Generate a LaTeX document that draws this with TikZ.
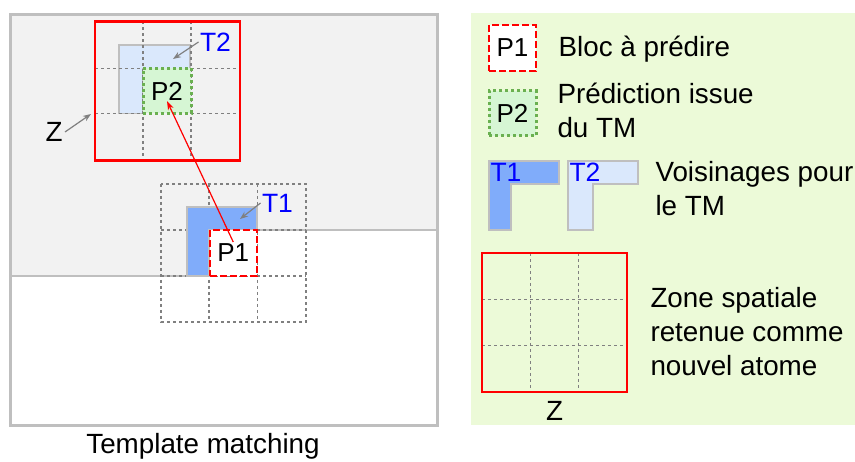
\documentclass[tikz,border=0pt]{standalone}
\usepackage{fontspec}
\setmainfont{Liberation Sans}
\usetikzlibrary{arrows.meta,positioning}
\definecolor{edge}{RGB}{191,191,191}
\definecolor{coded}{RGB}{242,242,242}
\definecolor{cellline}{RGB}{128,128,128}
\definecolor{legendbg}{RGB}{236,250,216}
\definecolor{tdark}{RGB}{128,172,250}
\definecolor{tlight}{RGB}{218,232,252}
\definecolor{predfill}{RGB}{214,246,212}
\definecolor{preddraw}{RGB}{106,176,80}
\definecolor{zonered}{RGB}{255,0,0}
\definecolor{tblue}{RGB}{0,0,255}
\tikzset{
  every picture/.style={line width=1pt},
  txt/.style={font=\fontsize{27.8}{34}\selectfont, inner sep=0pt, align=left},
  blk/.style={font=\fontsize{26}{30}\selectfont, inner sep=0pt, minimum width=47pt, minimum height=46pt},
  target/.style={blk, draw=zonered, dash pattern=on 7pt off 3pt, line width=2.2pt, fill=white},
  pred/.style={blk, draw=preddraw, dash pattern=on 3pt off 3pt, line width=3pt, fill=predfill},
  zone/.style={draw=zonered, line width=2.5pt, minimum width=145pt, minimum height=139pt, inner sep=0pt},
  frame/.style={draw=edge, line width=2.5pt, minimum width=427pt, minimum height=411pt, inner sep=0pt},
  cellgrid/.style={draw=cellline, dash pattern=on 3pt off 3pt, line width=1.2pt},
  tmpl/.style={draw=edge, line width=1.8pt},
  tlbl/.style={font=\fontsize{26.5}{30}\selectfont, text=tblue, inner sep=1pt},
  pointer/.style={-{Stealth[length=8pt,width=6pt]}, draw=gray, line width=1.2pt},
  match/.style={-{Stealth[length=9pt,width=6pt]}, draw=zonered, line width=1.2pt},
}

\begin{document}
\begin{tikzpicture}[x=1pt, y=-1pt]
  \useasboundingbox (0,0) rectangle (855,462);
  % already coded part of the image
  \fill[coded] (10,14) -- (438,14) -- (438,230) -- (209,230) -- (209,276) -- (10,276) -- cycle;
  \draw[tmpl] (438,230) -- (209,230) -- (209,276) -- (10,276);
  % cells round the block to predict
  \draw[cellgrid] (161,184) rectangle (306,322);
  \foreach \x in {209,257.5} \draw[cellgrid] (\x,184) -- (\x,322);
  \foreach \y in {230,276} \draw[cellgrid] (161,\y) -- (306,\y);
  \filldraw[tmpl, fill=tdark] (187,207) -- (257,207) -- (257,230) -- (209,230) -- (209,276) -- (187,276) -- cycle;
  \node[target] (p1) at (233.25,253) {P1};
  % matched zone
  \filldraw[tmpl, fill=tlight] (119,45) -- (190,45) -- (190,68.5) -- (143,68.5) -- (143,113.5) -- (119,113.5) -- cycle;
  \foreach \x in {143,191} \draw[cellgrid] (\x,21.5) -- (\x,160.5);
  \foreach \y in {68.5,113.5} \draw[cellgrid] (95,\y) -- (240,\y);
  \node[pred, minimum width=48pt, minimum height=45pt] (p2) at (167,91) {P2};
  \node[zone] (z) at (167.5,91) {};
  \draw[match] ([yshift=11pt]p1.center) -- ([yshift=-10pt]p2.center);
  \node[tlbl] (t2lbl) at (215.5,42) {T2};
  \coordinate (t2tip) at (173,59);
  \draw[pointer] (t2lbl.west) -- (t2tip);
  \node[tlbl] (t1lbl) at (277.5,203) {T1};
  \coordinate (t1tip) at (240,219);
  \draw[pointer] (t1lbl.west) -- (t1tip);
  \node[txt] (zlbl) at (54,132) {Z};
  \coordinate (ztip) at (91,114);
  \draw[pointer] ([xshift=2pt]zlbl.east) -- (ztip);
  \node[frame] (canvas) at (224,220) {};
  \node[txt, below=6pt of canvas, xshift=-21pt] (caption) {Template matching};
  % legend
  \fill[legendbg] (471,13) rectangle (855,425);
  \node[target] (keyp1) at (512.5,48) {P1};
  \node[txt, base right=21pt of keyp1] (keyp1txt) {Bloc à prédire};
  \node[pred, minimum height=45pt] (keyp2) at (512.5,113.5) {P2};
  \node[txt, anchor=west] (keyp2txt) at (557,110) {Prédiction issue\\du TM};
  \filldraw[tmpl, fill=tdark] (489,161) -- (559,161) -- (559,184) -- (511,184) -- (511,230) -- (489,230) -- cycle;
  \filldraw[tmpl, fill=tlight] (568,161) -- (638,161) -- (638,184) -- (593,184) -- (593,230) -- (568,230) -- cycle;
  \node[tlbl, anchor=north west, inner sep=0pt] (keyt1) at (490,162.5) {T1};
  \node[tlbl, anchor=north west, inner sep=0pt] (keyt2) at (569,162.5) {T2};
  \node[txt, anchor=west] (keyttxt) at (655,189) {Voisinages pour\\le TM};
  \foreach \x in {530.5,578.5} \draw[cellgrid] (\x,253) -- (\x,392);
  \foreach \y in {299.5,345.5} \draw[cellgrid] (482,\y) -- (627,\y);
  \node[zone] (keyz) at (554.5,322.5) {};
  \node[txt, below=8pt of keyz] (keyzlbl) {Z};
  \node[txt, anchor=west] (keyztxt) at (650,332) {Zone spatiale\\retenue comme\\nouvel atome};
\end{tikzpicture}
\end{document}
